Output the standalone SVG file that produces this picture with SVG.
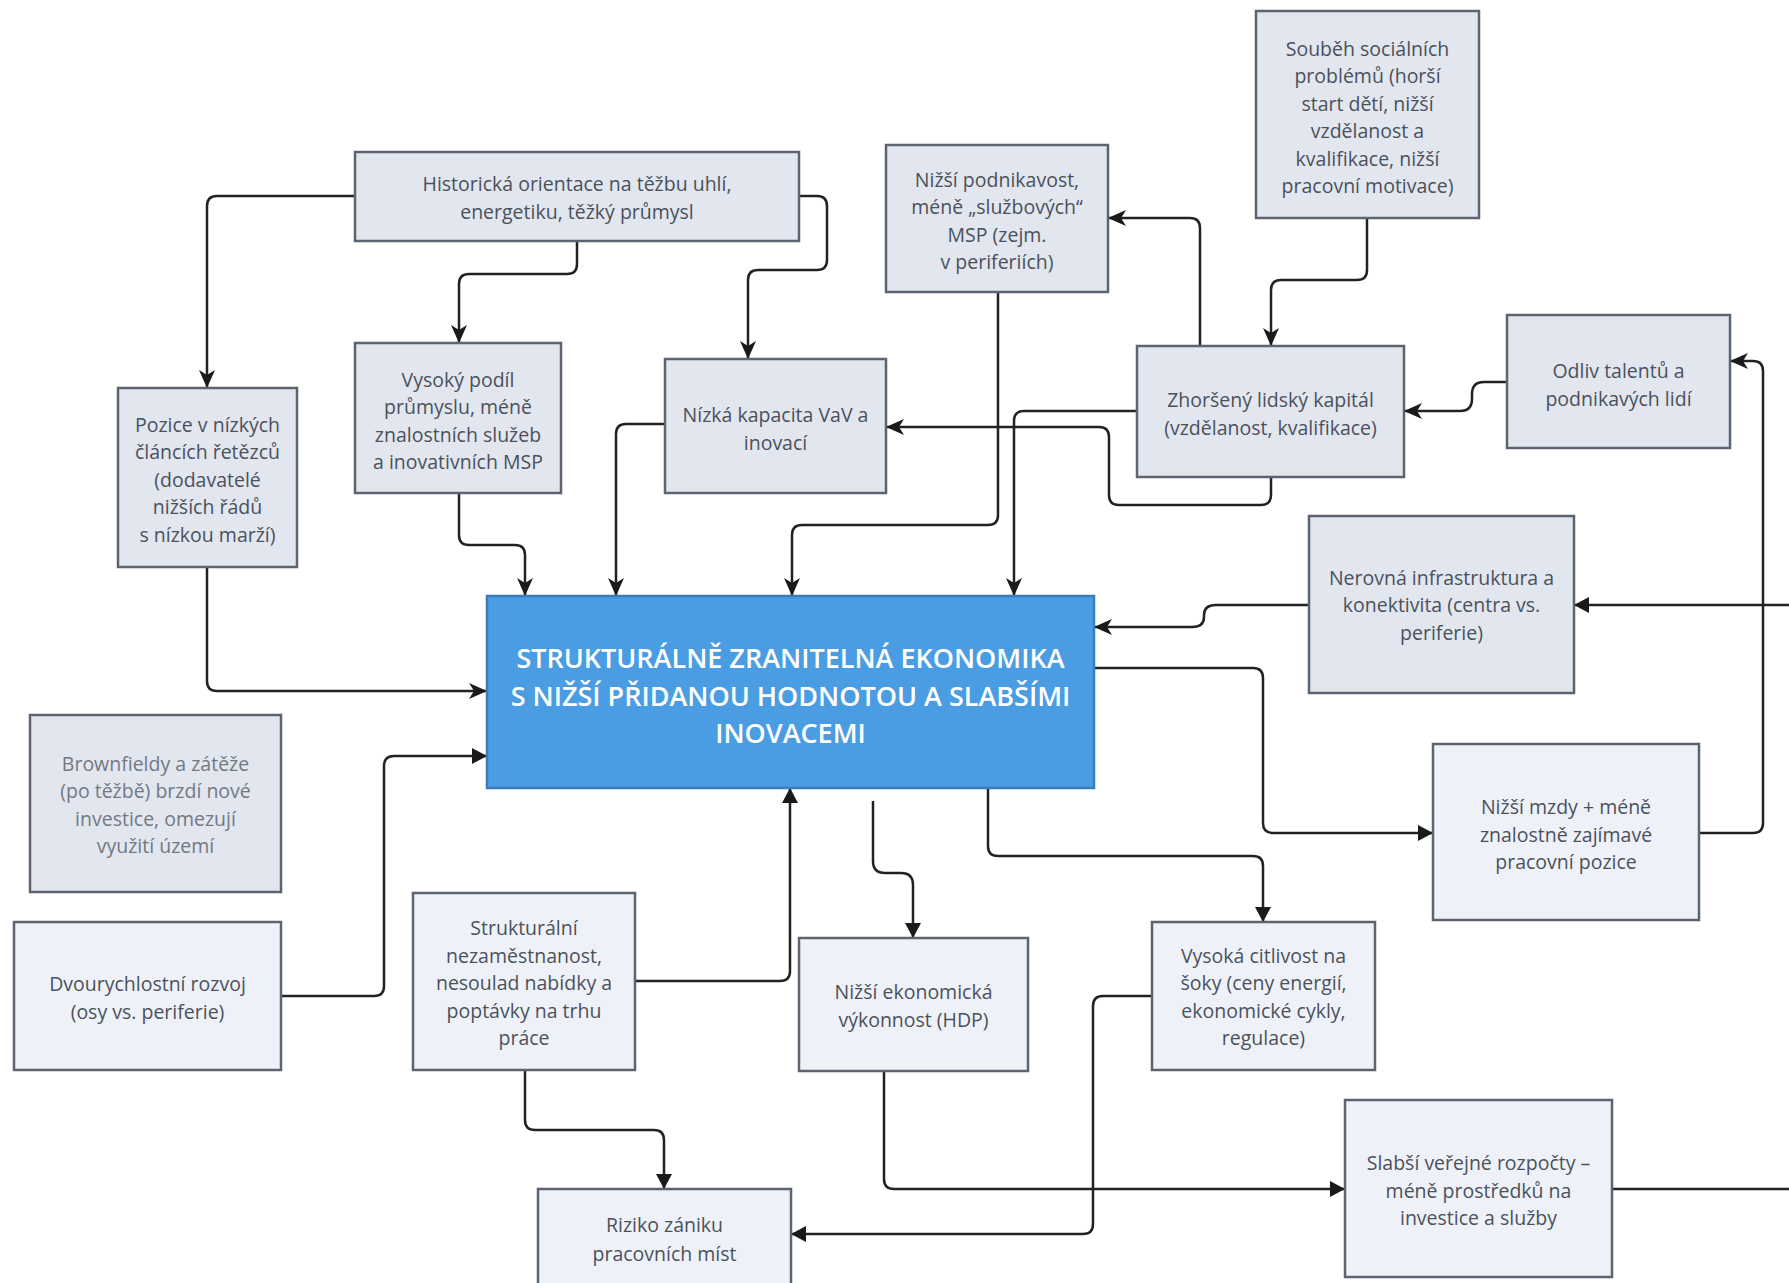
<svg xmlns="http://www.w3.org/2000/svg" width="1789" height="1283" viewBox="0 0 1789 1283">
<style>
  .n rect { fill: #e1e6ef; stroke: #5d6471; stroke-width: 2.5; }
  .n.l rect { fill: #eef1f8; }
  .n text { font-family: "Open Sans", "Noto Sans", sans-serif; font-size: 19.5px; fill: #4b515b; text-anchor: middle; dominant-baseline: central; }
  .n.g text { fill: #737983; }
  #main rect { fill: #4a9de2; stroke: #3a7dbd; stroke-width: 2.5; }
  #main text { font-family: "Open Sans", "Noto Sans", sans-serif; font-size: 27px; font-weight: 600; fill: #ffffff; text-anchor: middle; dominant-baseline: central; }
  .c path { fill: none; stroke: #222; stroke-width: 2.5; }
  .c .s { marker-end: url(#stealth); }
  .c .t { marker-end: url(#tri); }
</style>
<defs>
  <marker id="stealth" markerUnits="userSpaceOnUse" markerWidth="20" markerHeight="18" refX="18" refY="8" orient="auto">
    <path d="M0,0 L18,8 L0,16 L5,8 z" fill="#1a1a1a"/>
  </marker>
  <marker id="tri" markerUnits="userSpaceOnUse" markerWidth="18" markerHeight="18" refX="15" refY="8" orient="auto">
    <path d="M0,0 L15,8 L0,16 z" fill="#1a1a1a"/>
  </marker>
</defs>
<rect width="1789" height="1283" fill="#ffffff"/>

<g class="c" id="connectors">
  <path class="s" d="M355,196 H217 Q207,196 207,206 V388"/>
  <path class="s" d="M577,241 V264 Q577,274 567,274 H469 Q459,274 459,284 V343"/>
  <path class="s" d="M799,196 H817 Q827,196 827,206 V260 Q827,270 817,270 H758 Q748,270 748,280 V359"/>
  <path class="s" d="M207,567 V681 Q207,691 217,691 H487"/>
  <path class="s" d="M459,493 V535 Q459,545 469,545 H515 Q525,545 525,555 V596"/>
  <path class="s" d="M665,424 H626 Q616,424 616,434 V596"/>
  <path class="s" d="M998,292 V515 Q998,525 988,525 H802 Q792,525 792,535 V596"/>
  <path class="s" d="M1137,411 H1024 Q1014,411 1014,421 V596"/>
  <path class="s" d="M1271,477 V495 Q1271,505 1261,505 H1119 Q1109,505 1109,495 V437 Q1109,427 1099,427 H886"/>
  <path class="s" d="M1200,346 V228 Q1200,218 1190,218 H1108"/>
  <path class="s" d="M1367,218 V270 Q1367,280 1357,280 H1281 Q1271,280 1271,290 V346"/>
  <path class="s" d="M1507,382 H1484 Q1472,382 1472,394 V399 Q1472,411 1460,411 H1404"/>
  <path class="s" d="M1699,833 H1753 Q1763,833 1763,823 V371 Q1763,361 1753,361 H1730"/>
  <path class="t" d="M1612,1189 H1800 V605 H1574"/>
  <path class="s" d="M1309,605 H1216 Q1204,605 1204,615 V617 Q1204,627 1192,627 H1094"/>
  <path class="t" d="M1094,668 H1253 Q1263,668 1263,678 V823 Q1263,833 1273,833 H1433"/>
  <path class="t" d="M988,788 V846 Q988,856 998,856 H1253 Q1263,856 1263,866 V922"/>
  <path class="t" d="M873,801 V861 Q873,873 885,873 H901 Q913,873 913,885 V938"/>
  <path class="t" d="M281,996 H374 Q384,996 384,986 V766 Q384,756 394,756 H487"/>
  <path class="t" d="M635,981 H780 Q790,981 790,971 V788"/>
  <path class="t" d="M525,1070 V1120 Q525,1130 535,1130 H654 Q664,1130 664,1140 V1189"/>
  <path class="t" d="M1152,996 H1103 Q1093,996 1093,1006 V1224 Q1093,1234 1083,1234 H791"/>
  <path class="t" d="M884,1071 V1179 Q884,1189 894,1189 H1345"/>
</g>

<g class="n" id="historicka">
  <rect x="355" y="152" width="444" height="89"/>
  <text x="577" y="183">Historická orientace na těžbu uhlí,</text>
  <text x="577" y="211">energetiku, těžký průmysl</text>
</g>
<g class="n" id="soubeh">
  <rect x="1256" y="11" width="223" height="207"/>
  <text x="1367.5" y="48">Souběh sociálních</text>
  <text x="1367.5" y="75.5">problémů (horší</text>
  <text x="1367.5" y="103">start dětí, nižší</text>
  <text x="1367.5" y="130.5">vzdělanost a</text>
  <text x="1367.5" y="158">kvalifikace, nižší</text>
  <text x="1367.5" y="185.5">pracovní motivace)</text>
</g>
<g class="n" id="podnikavost">
  <rect x="886" y="145" width="222" height="147"/>
  <text x="997" y="179">Nižší podnikavost,</text>
  <text x="997" y="206.5">méně „službových“</text>
  <text x="997" y="234">MSP (zejm.</text>
  <text x="997" y="261.5">v periferiích)</text>
</g>
<g class="n" id="pozice">
  <rect x="118" y="388" width="179" height="179"/>
  <text x="207.5" y="424">Pozice v nízkých</text>
  <text x="207.5" y="451.5">článcích řetězců</text>
  <text x="207.5" y="479">(dodavatelé</text>
  <text x="207.5" y="506.5">nižších řádů</text>
  <text x="207.5" y="534">s nízkou marží)</text>
</g>
<g class="n" id="vysoky">
  <rect x="355" y="343" width="206" height="150"/>
  <text x="458" y="379">Vysoký podíl</text>
  <text x="458" y="406.5">průmyslu, méně</text>
  <text x="458" y="434">znalostních služeb</text>
  <text x="458" y="461.5">a inovativních MSP</text>
</g>
<g class="n" id="nizka">
  <rect x="665" y="359" width="221" height="134"/>
  <text x="775.5" y="414">Nízká kapacita VaV a</text>
  <text x="775.5" y="442">inovací</text>
</g>
<g class="n" id="zhorseny">
  <rect x="1137" y="346" width="267" height="131"/>
  <text x="1270.5" y="399">Zhoršený lidský kapitál</text>
  <text x="1270.5" y="427">(vzdělanost, kvalifikace)</text>
</g>
<g class="n" id="odliv">
  <rect x="1507" y="315" width="223" height="133"/>
  <text x="1618.5" y="370">Odliv talentů a</text>
  <text x="1618.5" y="398">podnikavých lidí</text>
</g>
<g class="n" id="nerovna">
  <rect x="1309" y="516" width="265" height="177"/>
  <text x="1441.5" y="577">Nerovná infrastruktura a</text>
  <text x="1441.5" y="604.5">konektivita (centra vs.</text>
  <text x="1441.5" y="632">periferie)</text>
</g>
<g id="main">
  <rect x="487" y="596" width="607" height="192"/>
  <text x="790.5" y="657">STRUKTURÁLNĚ ZRANITELNÁ EKONOMIKA</text>
  <text x="790.5" y="695">S NIŽŠÍ PŘIDANOU HODNOTOU A SLABŠÍMI</text>
  <text x="790.5" y="732">INOVACEMI</text>
</g>
<g class="n g" id="brownfieldy">
  <rect x="30" y="715" width="251" height="177"/>
  <text x="155.5" y="763">Brownfieldy a zátěže</text>
  <text x="155.5" y="790.5">(po těžbě) brzdí nové</text>
  <text x="155.5" y="818">investice, omezují</text>
  <text x="155.5" y="845.5">využití území</text>
</g>
<g class="n l" id="dvourychlostni">
  <rect x="14" y="922" width="267" height="148"/>
  <text x="147.5" y="983">Dvourychlostní rozvoj</text>
  <text x="147.5" y="1011">(osy vs. periferie)</text>
</g>
<g class="n l" id="strukturalni">
  <rect x="413" y="893" width="222" height="177"/>
  <text x="524" y="927.5">Strukturální</text>
  <text x="524" y="955">nezaměstnanost,</text>
  <text x="524" y="982.5">nesoulad nabídky a</text>
  <text x="524" y="1010">poptávky na trhu</text>
  <text x="524" y="1037.5">práce</text>
</g>
<g class="n l" id="ekonomicka">
  <rect x="799" y="938" width="229" height="133"/>
  <text x="913.5" y="991.5">Nižší ekonomická</text>
  <text x="913.5" y="1019.5">výkonnost (HDP)</text>
</g>
<g class="n l" id="citlivost">
  <rect x="1152" y="922" width="223" height="148"/>
  <text x="1263.5" y="955">Vysoká citlivost na</text>
  <text x="1263.5" y="982.5">šoky (ceny energií,</text>
  <text x="1263.5" y="1010">ekonomické cykly,</text>
  <text x="1263.5" y="1037.5">regulace)</text>
</g>
<g class="n l" id="mzdy">
  <rect x="1433" y="744" width="266" height="176"/>
  <text x="1566" y="806.5">Nižší mzdy + méně</text>
  <text x="1566" y="834">znalostně zajímavé</text>
  <text x="1566" y="861.5">pracovní pozice</text>
</g>
<g class="n l" id="rozpocty">
  <rect x="1345" y="1100" width="267" height="177"/>
  <text x="1478.5" y="1162.5">Slabší veřejné rozpočty –</text>
  <text x="1478.5" y="1190">méně prostředků na</text>
  <text x="1478.5" y="1217.5">investice a služby</text>
</g>
<g class="n l" id="riziko">
  <rect x="538" y="1189" width="253" height="110"/>
  <text x="664.5" y="1224">Riziko zániku</text>
  <text x="664.5" y="1253">pracovních míst</text>
</g>
</svg>
